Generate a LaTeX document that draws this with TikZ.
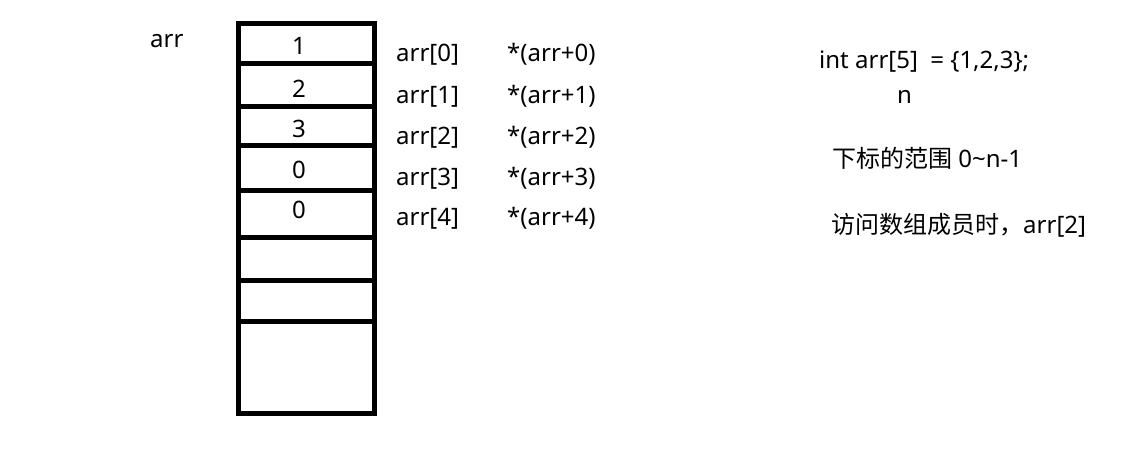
\documentclass[tikz,border=0pt]{standalone}
\usepackage{fontspec}
\setmainfont{Noto Sans}
\newfontfamily\cjk{Noto Sans CJK SC}
\usepackage{tikz}
\newcommand{\drawthick}{\draw[line width=5pt]}
\tikzset{
  lbl/.style={anchor=base west, inner sep=0pt, font=\fontsize{24}{28}\selectfont},
  val/.style={anchor=base, inner sep=0pt, font=\fontsize{24}{28}\selectfont}
}
\begin{document}
\begin{tikzpicture}[x=1pt,y=-1pt]
\useasboundingbox (0,0) rectangle (1121,460);
% array cells
\drawthick (238.5,24) rectangle (374.5,413.5);
\foreach \y in {63.5,106.5,145,190,237.5,280.5,321.5}{
  \drawthick (238.5,\y)--(374.5,\y);
}
\node[lbl] (arrname) at (150,48) {arr};
\foreach \v/\b/\i in {1/55/0,2/97/1,3/137/2,0/178/3,0/218/4}{
  \node[val] (cell\i) at (299,\b) {\v};
}
% index and pointer forms
\foreach \i/\b in {0/62,1/103,2/144,3/185,4/225}{
  \node[lbl] (idx\i) at (396,\b) {arr[\i]};
  \node[lbl] (ptr\i) at (507,\b) {*(arr+\i)};
}
% notes
\node[lbl] (decl) at (819,68) {int arr[5]\ \ = \{1,2,3\};};
\node[lbl] (size) at (897,103) {n};
\node[lbl] (range) at (832,167) {{\cjk 下标的范围} 0\char`~n-1};
\node[lbl] (access) at (831,233) {{\cjk 访问数组成员时，}arr[2]};
\end{tikzpicture}
\end{document}
